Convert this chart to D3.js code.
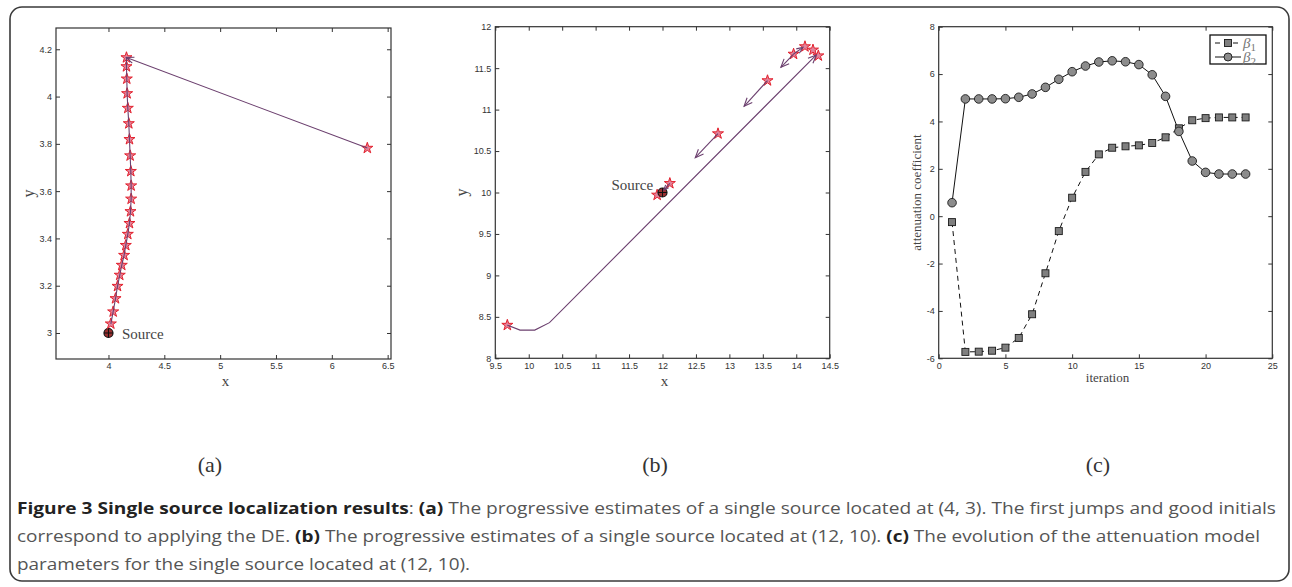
<!DOCTYPE html>
<html>
<head>
<meta charset="utf-8">
<script src="https://cdn.jsdelivr.net/npm/d3@7"></script>
<style>
  body { margin: 0; background: #fff; }
  svg { display: block; }
</style>
</head>
<body>
<svg id="fig" width="1292" height="587"></svg>
<script>
// ---- data ----
// (a) estimates for the source at (4, 3)
var aStarX = [6.318, 4.161, 4.161, 4.164, 4.167, 4.173, 4.182, 4.188, 4.194, 4.200, 4.203, 4.203,
              4.197, 4.188, 4.173, 4.155, 4.140, 4.119, 4.101, 4.081, 4.063, 4.042, 4.021];
var aStarY = [3.782, 4.165, 4.127, 4.075, 4.013, 3.951, 3.886, 3.819, 3.750, 3.684, 3.623, 3.567,
              3.514, 3.464, 3.418, 3.371, 3.329, 3.287, 3.245, 3.198, 3.146, 3.090, 3.039];
var aSource = [4, 3];
var aXTicks = [4, 4.5, 5, 5.5, 6, 6.5];
var aYTicks = [3, 3.2, 3.4, 3.6, 3.8, 4, 4.2];

// (b) estimates for the source at (12, 10)
var bPathX = [9.68, 9.87, 10.09, 10.31, 14.30];
var bPathY = [8.40, 8.34, 8.34, 8.43, 11.66];
var bStarX = [9.68, 14.33, 14.25, 14.13, 13.96, 13.57, 12.83, 12.11, 11.92];
var bStarY = [8.40, 11.65, 11.72, 11.76, 11.67, 11.35, 10.71, 10.11, 9.97];
var bArrowFromX = [13.96, 13.96, 13.57, 12.83, 12.11];
var bArrowFromY = [11.67, 11.67, 11.35, 10.71, 10.11];
var bArrowToX = [14.10, 13.77, 13.22, 12.49, 12.02];
var bArrowToY = [11.75, 11.51, 11.04, 10.42, 10.03];
var bSource = [12, 10];
var bXTicks = [9.5, 10, 10.5, 11, 11.5, 12, 12.5, 13, 13.5, 14, 14.5];
var bYTicks = [8, 8.5, 9, 9.5, 10, 10.5, 11, 11.5, 12];

// (c) attenuation coefficients per iteration
var iterations = d3.range(1, 24);
var beta1 = [-0.25, -5.73, -5.72, -5.68, -5.55, -5.14, -4.14, -2.41, -0.63, 0.78, 1.87, 2.61,
             2.89, 2.95, 2.99, 3.09, 3.33, 3.71, 4.05, 4.14, 4.17, 4.17, 4.17];
var beta2 = [0.57, 4.95, 4.95, 4.95, 4.96, 5.02, 5.16, 5.44, 5.78, 6.10, 6.34, 6.51,
             6.56, 6.52, 6.40, 5.97, 5.06, 3.58, 2.33, 1.85, 1.78, 1.78, 1.78];
var cXTicks = [0, 5, 10, 15, 20, 25];
var cYTicks = [-6, -4, -2, 0, 2, 4, 6, 8];

var svg = d3.select("#fig");
var purple = "#6b3f6e";
var serif = "'Liberation Serif', 'DejaVu Serif', serif";

// outer frame
svg.append("rect")
    .attr("x", 10).attr("y", 7)
    .attr("width", 1279).attr("height", 574)
    .attr("rx", 12)
    .attr("fill", "none")
    .attr("stroke", "#3a3a3a")
    .attr("stroke-width", 1.6);

function drawAxes(g, x, y, xt, yt) {
    var r = x.range(), t = y.range();
    function style(sel) {
        sel.select(".domain").remove();
        sel.selectAll(".tick line").attr("stroke", "#333");
        sel.selectAll(".tick text")
            .attr("font-family", "'Liberation Sans', Arial, sans-serif")
            .attr("font-size", 9)
            .attr("fill", "#333");
    }
    g.append("g").attr("transform", "translate(0," + t[0] + ")")
        .call(d3.axisBottom(x).tickValues(xt).tickFormat(String).tickSizeInner(-4).tickSizeOuter(0).tickPadding(4))
        .call(style);
    g.append("g").attr("transform", "translate(0," + t[1] + ")")
        .call(d3.axisTop(x).tickValues(xt).tickFormat("").tickSizeInner(-4).tickSizeOuter(0))
        .call(style);
    g.append("g").attr("transform", "translate(" + r[0] + ",0)")
        .call(d3.axisLeft(y).tickValues(yt).tickFormat(String).tickSizeInner(-4).tickSizeOuter(0).tickPadding(4))
        .call(style);
    g.append("g").attr("transform", "translate(" + r[1] + ",0)")
        .call(d3.axisRight(y).tickValues(yt).tickFormat("").tickSizeInner(-4).tickSizeOuter(0))
        .call(style);
    g.append("rect")
        .attr("x", r[0]).attr("y", t[1])
        .attr("width", r[1] - r[0]).attr("height", t[0] - t[1])
        .attr("fill", "none").attr("stroke", "#333").attr("stroke-width", 1.2);
}

function axisLabels(g, x, y, xl, yl, xs, ys, yx, xy) {
    var r = x.range(), t = y.range();
    g.append("text")
        .attr("x", (r[0] + r[1]) / 2 + 2).attr("y", xy)
        .attr("text-anchor", "middle")
        .attr("font-family", serif).attr("font-size", xs).attr("fill", "#444")
        .text(xl);
    g.append("text")
        .attr("transform", "translate(" + yx + "," + (t[0] + t[1]) / 2 + ") rotate(-90)")
        .attr("text-anchor", "middle")
        .attr("font-family", serif).attr("font-size", ys).attr("fill", "#444")
        .text(yl);
}

function arrowHead(g, x0, y0, x1, y1, len) {
    var a = Math.atan2(y1 - y0, x1 - x0), s = 0.4;
    var p = "M" + (x1 - len * Math.cos(a - s)) + "," + (y1 - len * Math.sin(a - s)) +
            "L" + x1 + "," + y1 +
            "L" + (x1 - len * Math.cos(a + s)) + "," + (y1 - len * Math.sin(a + s));
    g.append("path").attr("d", p).attr("fill", "none")
        .attr("stroke", purple).attr("stroke-width", 1.1);
}

var star = d3.symbol(d3.symbolStar, 38);

function drawStars(g, xs, ys, x, y) {
    g.selectAll(null).data(xs).enter().append("path")
        .attr("d", star)
        .attr("transform", function (d, i) { return "translate(" + x(d) + "," + y(ys[i]) + ")"; })
        .attr("fill", "#e2849c")
        .attr("stroke", "#e3202c")
        .attr("stroke-width", 1);
}

function drawSource(g, p, x, y) {
    var cx = x(p[0]), cy = y(p[1]);
    g.append("circle").attr("cx", cx).attr("cy", cy).attr("r", 4.5)
        .attr("fill", "#9a3030").attr("stroke", "#111").attr("stroke-width", 1.2);
    g.append("path")
        .attr("d", "M" + (cx - 4.5) + "," + cy + "H" + (cx + 4.5) + "M" + cx + "," + (cy - 4.5) + "V" + (cy + 4.5))
        .attr("stroke", "#111").attr("stroke-width", 1);
}

// ---- panel (a) ----
var ga = svg.append("g");
var xa = d3.scaleLinear().domain([3.53, 6.53]).range([56, 391]);
var ya = d3.scaleLinear().domain([2.89, 4.29]).range([359, 28]);
drawAxes(ga, xa, ya, aXTicks, aYTicks);
axisLabels(ga, xa, ya, "x", "y", 15, 16, 34, 386);

var lineA = d3.line().x(function (d) { return xa(d[0]); }).y(function (d) { return ya(d[1]); });
var aPts = aStarX.map(function (d, i) { return [d, aStarY[i]]; });
drawSource(ga, aSource, xa, ya);
drawStars(ga, aStarX, aStarY, xa, ya);
ga.append("path").attr("d", lineA(aPts)).attr("fill", "none")
    .attr("stroke", purple).attr("stroke-width", 1.1);
arrowHead(ga, xa(aStarX[0]), ya(aStarY[0]), xa(aStarX[1]), ya(aStarY[1]), 8);
ga.append("text").attr("x", 122).attr("y", 339)
    .attr("font-family", serif).attr("font-size", 15).attr("fill", "#444")
    .text("Source");

// ---- panel (b) ----
var gb = svg.append("g");
var xb = d3.scaleLinear().domain([9.5, 14.5]).range([495.3, 829.7]);
var yb = d3.scaleLinear().domain([8, 12]).range([358.3, 26.7]);
drawAxes(gb, xb, yb, bXTicks, bYTicks);
axisLabels(gb, xb, yb, "x", "y", 15, 16, 467, 386);

var lineB = d3.line().x(function (d) { return xb(d[0]); }).y(function (d) { return yb(d[1]); });
var bPts = bPathX.map(function (d, i) { return [d, bPathY[i]]; });
drawStars(gb, bStarX, bStarY, xb, yb);
drawSource(gb, bSource, xb, yb);
gb.append("path").attr("d", lineB(bPts)).attr("fill", "none")
    .attr("stroke", purple).attr("stroke-width", 1.1);
var n = bPathX.length;
arrowHead(gb, xb(bPathX[n - 2]), yb(bPathY[n - 2]), xb(bPathX[n - 1]), yb(bPathY[n - 1]), 9);
bArrowFromX.forEach(function (d, i) {
    var x0 = xb(d), y0 = yb(bArrowFromY[i]), x1 = xb(bArrowToX[i]), y1 = yb(bArrowToY[i]);
    gb.append("line").attr("x1", x0).attr("y1", y0).attr("x2", x1).attr("y2", y1)
        .attr("stroke", purple).attr("stroke-width", 1.1);
    arrowHead(gb, x0, y0, x1, y1, Math.min(9, Math.hypot(x1 - x0, y1 - y0) * 0.6));
});
gb.append("text").attr("x", 611.5).attr("y", 190)
    .attr("font-family", serif).attr("font-size", 15).attr("fill", "#444")
    .text("Source");

// ---- panel (c) ----
var gc = svg.append("g");
var xc = d3.scaleLinear().domain([0, 25]).range([938.7, 1272.3]);
var yc = d3.scaleLinear().domain([-6, 8]).range([358.3, 26.7]);
drawAxes(gc, xc, yc, cXTicks, cYTicks);
axisLabels(gc, xc, yc, "iteration", "attenuation coefficient", 13, 13, 921, 382);

var lineC = d3.line().x(function (d, i) { return xc(iterations[i]); }).y(function (d) { return yc(d); });
gc.append("path").attr("d", lineC(beta1)).attr("fill", "none")
    .attr("stroke", "#111").attr("stroke-width", 1).attr("stroke-dasharray", "5,4");
gc.append("path").attr("d", lineC(beta2)).attr("fill", "none")
    .attr("stroke", "#111").attr("stroke-width", 1);
gc.selectAll(".sq").data(beta1).enter().append("rect")
    .attr("x", function (d, i) { return xc(iterations[i]) - 3.5; })
    .attr("y", function (d) { return yc(d) - 3.5; })
    .attr("width", 7).attr("height", 7)
    .attr("fill", "#7f7f7f").attr("stroke", "#1a1a1a").attr("stroke-width", 0.9);
gc.selectAll(".ci").data(beta2).enter().append("circle")
    .attr("cx", function (d, i) { return xc(iterations[i]); })
    .attr("cy", function (d) { return yc(d); })
    .attr("r", 4.3)
    .attr("fill", "#8c8c8c").attr("stroke", "#1a1a1a").attr("stroke-width", 0.9);

// legend
var lg = gc.append("g");
lg.append("rect").attr("x", 1210).attr("y", 35).attr("width", 56).attr("height", 29)
    .attr("fill", "#fff").attr("stroke", "#111").attr("stroke-width", 1.3);
lg.append("line").attr("x1", 1215).attr("x2", 1241).attr("y1", 43).attr("y2", 43)
    .attr("stroke", "#111").attr("stroke-dasharray", "5,4");
lg.append("rect").attr("x", 1224.5).attr("y", 39.5).attr("width", 7).attr("height", 7)
    .attr("fill", "#7f7f7f").attr("stroke", "#1a1a1a").attr("stroke-width", 0.9);
lg.append("line").attr("x1", 1215).attr("x2", 1241).attr("y1", 57).attr("y2", 57)
    .attr("stroke", "#111");
lg.append("circle").attr("cx", 1228).attr("cy", 57).attr("r", 4)
    .attr("fill", "#8c8c8c").attr("stroke", "#1a1a1a").attr("stroke-width", 0.9);
[["1", 48], ["2", 62]].forEach(function (e) {
    var t = lg.append("text").attr("x", 1243).attr("y", e[1])
        .attr("font-family", serif).attr("font-size", 15).attr("fill", "#777");
    t.append("tspan").attr("font-style", "italic").text("β");
    t.append("tspan").attr("font-size", 11).attr("dy", 3).text(e[0]);
});

// ---- sub-figure letters ----
var letters = [["(a)", 210], ["(b)", 655], ["(c)", 1098]];
letters.forEach(function (l) {
    svg.append("text").attr("x", l[1]).attr("y", 472)
        .attr("text-anchor", "middle")
        .attr("font-family", serif).attr("font-size", 22).attr("fill", "#333")
        .text(l[0]);
});

// ---- caption ----
var caption = [
    { y: 514, len: 1259, parts: [["Figure 3 Single source localization results", 1], [": ", 0], ["(a)", 1],
        [" The progressive estimates of a single source located at (4, 3). The first jumps and good initials", 0]] },
    { y: 542, len: 1243, parts: [["correspond to applying the DE. ", 0], ["(b)", 1],
        [" The progressive estimates of a single source located at (12, 10). ", 0], ["(c)", 1],
        [" The evolution of the attenuation model", 0]] },
    { y: 570, len: 453, parts: [["parameters for the single source located at (12, 10).", 0]] }
];
caption.forEach(function (c) {
    var t = svg.append("text").attr("x", 17).attr("y", c.y)
        .attr("font-family", "'Open Sans', 'Noto Sans', sans-serif")
        .attr("font-size", 16)
        .attr("textLength", c.len)
        .attr("lengthAdjust", "spacingAndGlyphs")
        .attr("fill", "#555");
    c.parts.forEach(function (p) {
        t.append("tspan")
            .attr("font-weight", p[1] ? "bold" : "normal")
            .attr("fill", p[1] ? "#222" : "#555")
            .text(p[0]);
    });
});
</script>
</body>
</html>
